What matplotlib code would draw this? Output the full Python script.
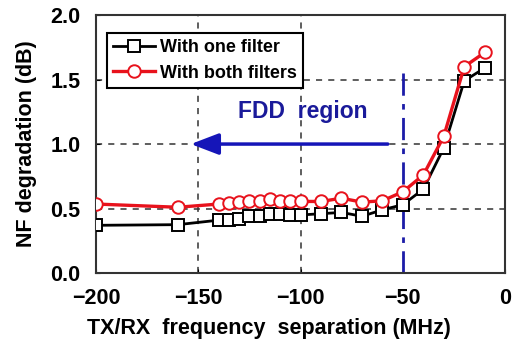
import matplotlib
matplotlib.use("Agg")
import matplotlib.pyplot as plt

plt.rcParams["font.family"] = ["Liberation Sans", "DejaVu Sans"]
plt.rcParams["font.weight"] = "bold"

# data
sep_mhz = [-200, -160, -140, -135, -130, -125, -120, -115, -110, -105,
           -100, -90, -80, -70, -60, -50, -40, -30, -20, -10]
nf_one = [0.37, 0.375, 0.41, 0.41, 0.42, 0.44, 0.445, 0.46, 0.46, 0.45,
          0.45, 0.46, 0.47, 0.44, 0.49, 0.53, 0.65, 0.97, 1.49, 1.59]
nf_both = [0.535, 0.51, 0.535, 0.545, 0.55, 0.555, 0.56, 0.575, 0.56, 0.56,
           0.555, 0.555, 0.58, 0.55, 0.56, 0.63, 0.76, 1.06, 1.60, 1.71]
xticks = [-200, -150, -100, -50, 0]
yticks = [0.0, 0.5, 1.0, 1.5, 2.0]
fdd_edge = -50

fig = plt.figure(figsize=(5.16, 3.43), dpi=100)
ax = fig.add_axes([0.186, 0.204, 0.793, 0.752])

# dashed grid (skip -50, where the FDD boundary sits)
for xv in [-150, -100]:
    ax.axvline(xv, color="#333", lw=1.1, ls=(0, (4, 4)), zorder=1)
for yv in [0.5, 1.0, 1.5]:
    ax.axhline(yv, color="#333", lw=1.1, ls=(0, (4, 4)), zorder=1)

ax.plot([fdd_edge, fdd_edge], [0, 1.57], color="#1c1ca8", lw=2,
        ls=(0, (8, 3, 2, 3)), zorder=2)

ax.plot(sep_mhz, nf_one, color="black", lw=2, marker="s", ms=8,
        mfc="white", mec="black", mew=1.4, label="With one filter", zorder=3)
ax.plot(sep_mhz, nf_both, color="#e8121c", lw=2.4, marker="o", ms=9,
        mfc="white", mec="#e8121c", mew=1.4, label="With both filters", zorder=4)

ax.annotate("", xy=(-155, 1.0), xytext=(-56, 1.0),
            arrowprops=dict(arrowstyle="-|>,head_length=1.7,head_width=0.65",
                            color="#1515b8", lw=2.5), zorder=5)
ax.text(-99, 1.25, "FDD  region", color="#1a1a9a", fontsize=16.5,
        fontweight="bold", ha="center", va="center")

ax.set_xlim(-200, 0)
ax.set_ylim(0, 2.0)
ax.set_xticks(xticks)
ax.set_xticklabels(["\u2212200", "\u2212150", "\u2212100", "\u221250", "0"])
ax.set_yticks(yticks)
ax.set_yticklabels([f"{v:.1f}" for v in yticks])
ax.tick_params(direction="in", length=3, labelsize=15.5, pad=11)
for s in ax.spines.values():
    s.set_linewidth(1.5)
    s.set_color("#333")

ax.set_xlabel("TX/RX  frequency  separation (MHz)", fontsize=15.5,
              fontweight="bold", va="center")
ax.xaxis.set_label_coords(0.423, -0.215)
ax.set_ylabel("NF degradation (dB)", fontsize=15.5, fontweight="bold")
ax.yaxis.set_label_coords(-0.145, 0.5)

leg = ax.legend(loc="upper left", bbox_to_anchor=(0.027, 0.93),
                fontsize=13, frameon=True, fancybox=False, borderpad=0.35,
                handlelength=2.3, handletextpad=0.3, labelspacing=0.45,
                borderaxespad=0)
leg.get_frame().set_edgecolor("black")
leg.get_frame().set_linewidth(1.5)
leg.get_frame().set_alpha(1)

fig.savefig("out.png", dpi=100)
